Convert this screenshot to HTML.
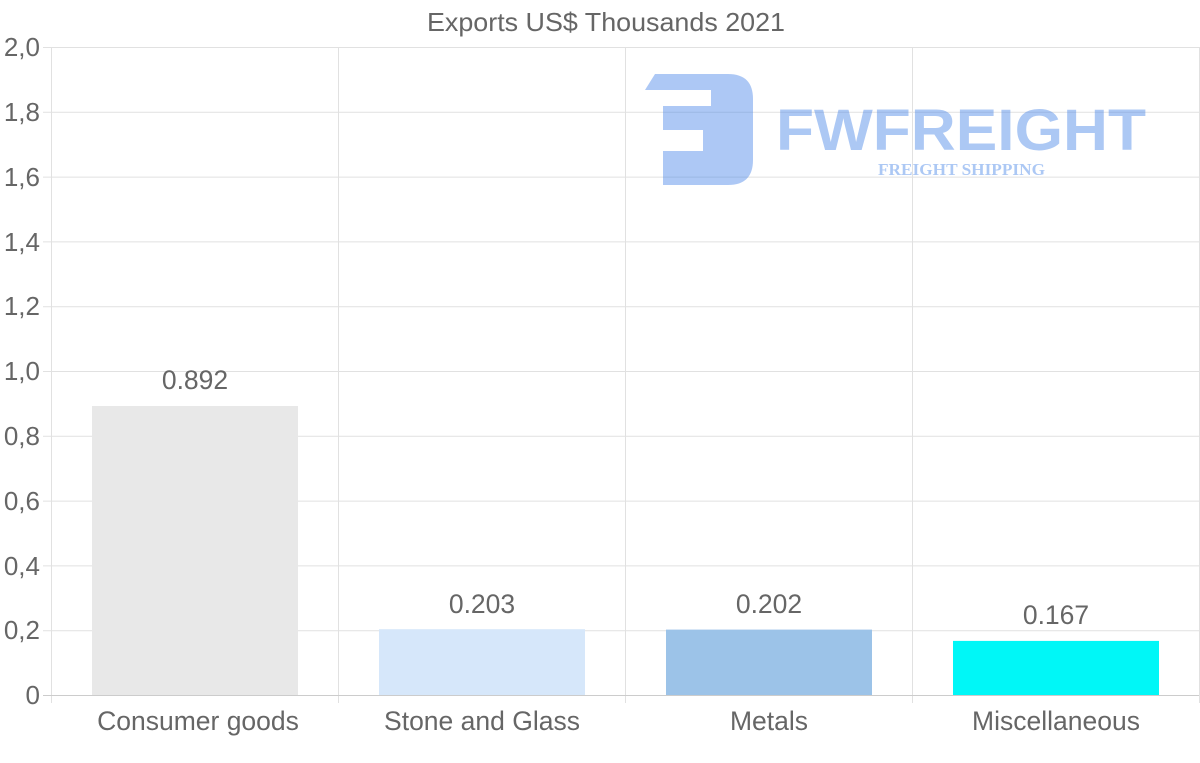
<!DOCTYPE html>
<html><head><meta charset="utf-8"><style>
html,body{margin:0;padding:0;background:#fff;}
svg{display:block;font-family:"Liberation Sans",sans-serif;}
</style></head><body>
<svg width="1200" height="763" viewBox="0 0 1200 763" xmlns="http://www.w3.org/2000/svg">
<text x="427" y="31" font-size="26" fill="#666" textLength="358" lengthAdjust="spacingAndGlyphs">Exports US$ Thousands 2021</text>
<g stroke="#e1e1e1" stroke-width="1">
<line x1="43" y1="47.5" x2="1199" y2="47.5"/>
<line x1="43" y1="112.3" x2="1199" y2="112.3"/>
<line x1="43" y1="177.1" x2="1199" y2="177.1"/>
<line x1="43" y1="241.9" x2="1199" y2="241.9"/>
<line x1="43" y1="306.7" x2="1199" y2="306.7"/>
<line x1="43" y1="371.5" x2="1199" y2="371.5"/>
<line x1="43" y1="436.3" x2="1199" y2="436.3"/>
<line x1="43" y1="501.1" x2="1199" y2="501.1"/>
<line x1="43" y1="565.9" x2="1199" y2="565.9"/>
<line x1="43" y1="630.7" x2="1199" y2="630.7"/>
<line x1="51.5" y1="47" x2="51.5" y2="703"/>
<line x1="338.5" y1="47" x2="338.5" y2="703"/>
<line x1="625.5" y1="47" x2="625.5" y2="703"/>
<line x1="912.5" y1="47" x2="912.5" y2="703"/>
<line x1="1199.5" y1="47" x2="1199.5" y2="703"/>
</g>
<line x1="43" y1="695.5" x2="1199" y2="695.5" stroke="#ccc"/>
<g font-size="26" fill="#666" text-anchor="end">
<text x="40" y="56">2,0</text><text x="40" y="121">1,8</text><text x="40" y="186">1,6</text>
<text x="40" y="251">1,4</text><text x="40" y="315">1,2</text><text x="40" y="380">1,0</text>
<text x="40" y="445">0,8</text><text x="40" y="510">0,6</text><text x="40" y="575">0,4</text>
<text x="40" y="639">0,2</text><text x="40" y="704">0</text>
</g>
<!-- logo -->
<path opacity="0.45" fill="#4a86e8" d="M655 74 H728 Q753 74 753 99 V160 Q753 185 728 185 H663 V151 H703 V130 H663 V106 H711 V90 H645 Z"/>
<text x="776" y="150" font-size="58" font-weight="bold" fill="#4a86e8" opacity="0.45" textLength="370" lengthAdjust="spacingAndGlyphs">FWFREIGHT</text>
<text x="878" y="175" font-family="Liberation Serif,serif" font-size="17" font-weight="bold" fill="#4a86e8" opacity="0.45" textLength="167" lengthAdjust="spacingAndGlyphs">FREIGHT SHIPPING</text>
<!-- bars -->
<rect x="92" y="406" width="206" height="289" fill="#e8e8e8"/>
<rect x="379" y="629.2" width="206" height="65.8" fill="#d6e7fa"/>
<rect x="666" y="629.6" width="206" height="65.4" fill="#9cc3e8"/>
<rect x="953" y="640.9" width="206" height="54.1" fill="#00f7f7"/>
<g font-size="26.5" fill="#666" text-anchor="middle">
<text x="195" y="389">0.892</text>
<text x="482" y="613">0.203</text>
<text x="769" y="613">0.202</text>
<text x="1056" y="624">0.167</text>
</g>
<g font-size="26.5" fill="#666" text-anchor="middle">
<text x="198" y="730">Consumer goods</text>
<text x="482" y="730">Stone and Glass</text>
<text x="769" y="730">Metals</text>
<text x="1056" y="730">Miscellaneous</text>
</g>
</svg>
</body></html>
